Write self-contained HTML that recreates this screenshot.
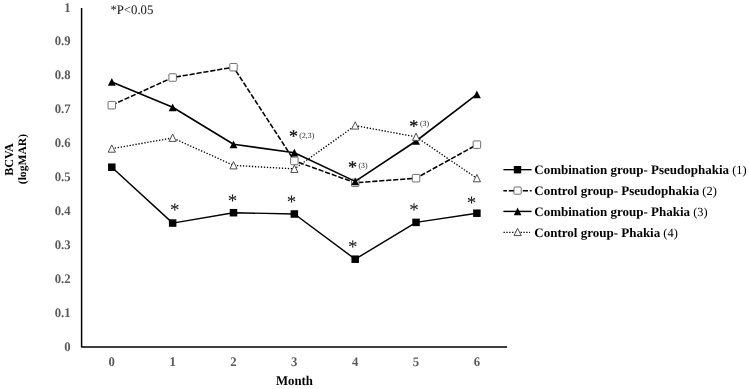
<!DOCTYPE html>
<html><head><meta charset="utf-8"><title>BCVA chart</title>
<style>
html,body{margin:0;padding:0;background:#fff;}
svg{display:block;text-rendering:geometricPrecision;}
text{font-family:"Liberation Serif","Times New Roman",serif;}
.tk{font-size:12.7px;font-weight:bold;fill:#595959;}
.ttl{font-weight:bold;fill:#000;}
.lg{font-size:13px;fill:#000;}
.ast{font-size:19px;fill:#111;}
.astb{font-size:18px;fill:#111;stroke:#111;stroke-width:0.3px;}
.sm{font-size:7.8px;fill:#222;}
</style></head><body>
<svg width="749" height="389" viewBox="0 0 749 389">
<rect width="749" height="389" fill="#fff"/>

<path d="M81.6 8 V346.9 H507.0" fill="none" stroke="#000" stroke-width="1.5" stroke-linejoin="round"/>
<text transform="translate(70.5,351) scale(1,1.03)" class="tk" text-anchor="end">0</text>
<text transform="translate(70.5,317) scale(1,1.03)" class="tk" text-anchor="end">0.1</text>
<text transform="translate(70.5,283) scale(1,1.03)" class="tk" text-anchor="end">0.2</text>
<text transform="translate(70.5,249) scale(1,1.03)" class="tk" text-anchor="end">0.3</text>
<text transform="translate(70.5,215) scale(1,1.03)" class="tk" text-anchor="end">0.4</text>
<text transform="translate(70.5,181) scale(1,1.03)" class="tk" text-anchor="end">0.5</text>
<text transform="translate(70.5,147) scale(1,1.03)" class="tk" text-anchor="end">0.6</text>
<text transform="translate(70.5,113) scale(1,1.03)" class="tk" text-anchor="end">0.7</text>
<text transform="translate(70.5,79) scale(1,1.03)" class="tk" text-anchor="end">0.8</text>
<text transform="translate(70.5,45) scale(1,1.03)" class="tk" text-anchor="end">0.9</text>
<text transform="translate(70.5,12) scale(1,1.03)" class="tk" text-anchor="end">1</text>
<text transform="translate(111.7,366.4) scale(1,1.03)" class="tk" text-anchor="middle">0</text>
<text transform="translate(172.6,366.4) scale(1,1.03)" class="tk" text-anchor="middle">1</text>
<text transform="translate(233.4,366.4) scale(1,1.03)" class="tk" text-anchor="middle">2</text>
<text transform="translate(294.2,366.4) scale(1,1.03)" class="tk" text-anchor="middle">3</text>
<text transform="translate(355.1,366.4) scale(1,1.03)" class="tk" text-anchor="middle">4</text>
<text transform="translate(415.9,366.4) scale(1,1.03)" class="tk" text-anchor="middle">5</text>
<text transform="translate(476.8,366.4) scale(1,1.03)" class="tk" text-anchor="middle">6</text>
<text transform="translate(294.5,384.9) scale(1,1.05)" class="ttl" font-size="12.8" text-anchor="middle">Month</text>
<text transform="translate(12.9,159.5) rotate(-90) scale(1,1.01)" class="ttl" font-size="12.1" text-anchor="middle">BCVA</text>
<text transform="translate(25.8,159.1) rotate(-90) scale(1,0.98)" class="ttl" font-size="11.6" text-anchor="middle">(logMAR)</text>
<text transform="translate(110.4,13.7) scale(1,1.03)" font-size="12.75" fill="#111">*P&lt;0.05</text>
<polyline points="111.8,167.2 172.7,223.1 233.5,212.7 294.4,214.0 355.2,259.2 416.1,222.4 476.9,213.2" fill="none" stroke="#000" stroke-width="1.45" stroke-linejoin="round"/>
<rect x="108.05" y="163.45" width="7.5" height="7.5" fill="#000"/>
<rect x="168.90" y="219.30" width="7.5" height="7.5" fill="#000"/>
<rect x="229.75" y="208.95" width="7.5" height="7.5" fill="#000"/>
<rect x="290.60" y="210.25" width="7.5" height="7.5" fill="#000"/>
<rect x="351.45" y="255.45" width="7.5" height="7.5" fill="#000"/>
<rect x="412.30" y="218.65" width="7.5" height="7.5" fill="#000"/>
<rect x="473.15" y="209.45" width="7.5" height="7.5" fill="#000"/>
<polyline points="111.8,105.2 172.7,77.5 233.5,67.2 294.4,160.9 355.2,182.8 416.1,178.2 476.9,144.7" fill="none" stroke="#000" stroke-width="1.55" stroke-dasharray="5.2 1.8" stroke-linejoin="round"/>
<rect x="108.05" y="101.45" width="7.5" height="7.5" rx="0.9" fill="#fff" stroke="#5e5e5e" stroke-width="0.9"/>
<rect x="168.90" y="73.75" width="7.5" height="7.5" rx="0.9" fill="#fff" stroke="#5e5e5e" stroke-width="0.9"/>
<rect x="229.75" y="63.45" width="7.5" height="7.5" rx="0.9" fill="#fff" stroke="#5e5e5e" stroke-width="0.9"/>
<rect x="290.60" y="157.15" width="7.5" height="7.5" rx="0.9" fill="#fff" stroke="#5e5e5e" stroke-width="0.9"/>
<rect x="351.45" y="179.05" width="7.5" height="7.5" rx="0.9" fill="#fff" stroke="#5e5e5e" stroke-width="0.9"/>
<rect x="412.30" y="174.45" width="7.5" height="7.5" rx="0.9" fill="#fff" stroke="#5e5e5e" stroke-width="0.9"/>
<rect x="473.15" y="140.95" width="7.5" height="7.5" rx="0.9" fill="#fff" stroke="#5e5e5e" stroke-width="0.9"/>
<polyline points="111.8,81.9 172.7,107.3 233.5,144.3 294.4,152.7 355.2,181.4 416.1,141.0 476.9,94.4" fill="none" stroke="#000" stroke-width="1.6" stroke-linejoin="round"/>
<polygon points="111.80,78.05 115.70,85.75 107.90,85.75" fill="#000"/>
<polygon points="172.65,103.45 176.55,111.15 168.75,111.15" fill="#000"/>
<polygon points="233.50,140.50 237.40,148.20 229.60,148.20" fill="#000"/>
<polygon points="294.35,148.85 298.25,156.55 290.45,156.55" fill="#000"/>
<polygon points="355.20,177.60 359.10,185.30 351.30,185.30" fill="#000"/>
<polygon points="416.05,137.15 419.95,144.85 412.15,144.85" fill="#000"/>
<polygon points="476.90,90.55 480.80,98.25 473.00,98.25" fill="#000"/>
<polyline points="111.8,148.7 172.7,137.9 233.5,165.4 294.4,168.9 355.2,125.6 416.1,136.9 476.9,178.3" fill="none" stroke="#000" stroke-width="1.35" stroke-dasharray="1.3 1.7" stroke-linejoin="round"/>
<polygon points="111.80,144.90 115.40,152.20 108.20,152.20" fill="#fff" stroke="#4d4d4d" stroke-width="1"/>
<polygon points="172.65,134.10 176.25,141.40 169.05,141.40" fill="#fff" stroke="#4d4d4d" stroke-width="1"/>
<polygon points="233.50,161.60 237.10,168.90 229.90,168.90" fill="#fff" stroke="#4d4d4d" stroke-width="1"/>
<polygon points="294.35,165.10 297.95,172.40 290.75,172.40" fill="#fff" stroke="#4d4d4d" stroke-width="1"/>
<polygon points="355.20,121.80 358.80,129.10 351.60,129.10" fill="#fff" stroke="#4d4d4d" stroke-width="1"/>
<polygon points="416.05,133.10 419.65,140.40 412.45,140.40" fill="#fff" stroke="#4d4d4d" stroke-width="1"/>
<polygon points="476.90,174.50 480.50,181.80 473.30,181.80" fill="#fff" stroke="#4d4d4d" stroke-width="1"/>
<text class="ast" x="174.8" y="216" text-anchor="middle">*</text>
<text class="ast" x="232.4" y="207" text-anchor="middle">*</text>
<text class="ast" x="291.4" y="208" text-anchor="middle">*</text>
<text class="ast" x="352.7" y="253" text-anchor="middle">*</text>
<text class="ast" x="414.0" y="216" text-anchor="middle">*</text>
<text class="ast" x="471.4" y="209" text-anchor="middle">*</text>
<text class="astb" x="293.4" y="142" text-anchor="middle">*</text>
<text class="astb" x="352.6" y="173" text-anchor="middle">*</text>
<text class="astb" x="413.7" y="132" text-anchor="middle">*</text>
<text class="sm" x="299.3" y="138">(2,3)</text>
<text class="sm" x="358.4" y="168">(3)</text>
<text class="sm" x="419.9" y="126">(3)</text>
<line x1="503.4" x2="531.6" y1="169.7" y2="169.7" stroke="#000" stroke-width="1.35"/>
<rect x="513.80" y="166.00" width="7.4" height="7.4" fill="#000"/>
<text transform="translate(534.3,174) scale(1,1.0)" class="lg"><tspan font-weight="bold" font-size="13">Combination group- Pseudophakia</tspan><tspan dx="3.1" font-size="12.4">(1)</tspan></text>
<line x1="503.4" x2="531.6" y1="190.8" y2="190.8" stroke="#000" stroke-width="1.6" stroke-dasharray="5.2 1.8" stroke-dashoffset="1.6"/>
<rect x="514.00" y="187.00" width="7.2" height="7.2" rx="0.9" fill="#fff" stroke="#5e5e5e" stroke-width="0.9"/>
<text transform="translate(534.3,195) scale(1,1.0)" class="lg"><tspan font-weight="bold" font-size="13">Control group- Pseudophakia</tspan><tspan dx="3.1" font-size="12.4">(2)</tspan></text>
<line x1="503.4" x2="531.6" y1="211.4" y2="211.4" stroke="#000" stroke-width="1.45"/>
<polygon points="517.60,207.60 521.40,215.20 513.80,215.20" fill="#000"/>
<text transform="translate(534.3,216) scale(1,1.0)" class="lg"><tspan font-weight="bold" font-size="13">Combination group- Phakia</tspan><tspan dx="3.1" font-size="12.4">(3)</tspan></text>
<line x1="503.5" x2="530.0" y1="232.3" y2="232.3" stroke="#000" stroke-width="1.3" stroke-dasharray="1.3 1.55"/>
<polygon points="517.60,228.30 521.20,235.60 514.00,235.60" fill="#fff" stroke="#4d4d4d" stroke-width="1"/>
<text transform="translate(534.3,237) scale(1,1.0)" class="lg"><tspan font-weight="bold" font-size="13">Control group- Phakia</tspan><tspan dx="3.1" font-size="12.4">(4)</tspan></text>
</svg></body></html>
